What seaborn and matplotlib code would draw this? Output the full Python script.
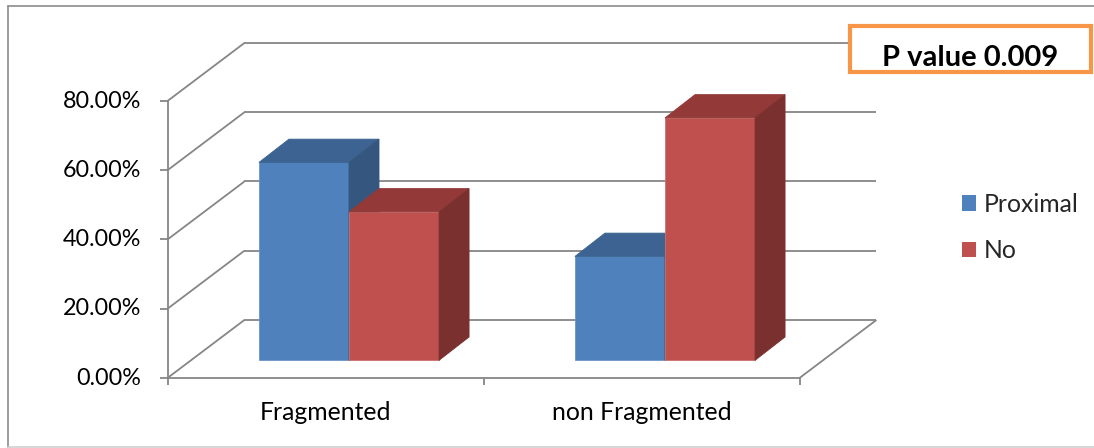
import matplotlib
matplotlib.use("Agg")
import matplotlib.pyplot as plt
from matplotlib.patches import Polygon, Rectangle, Patch
from matplotlib.lines import Line2D
import seaborn as sns
import pandas as pd

# ---- data -------------------------------------------------------------
categories = ["Fragmented", "non Fragmented"]
series = ["Proximal", "No"]
proximal = [57.14, 30.0]
no_values = [42.86, 70.0]
y_ticks = [0, 20, 40, 60, 80]
p_text = "P value 0.009"

# ---- styling ----------------------------------------------------------
front_colors = {"Proximal": "#4F81BD", "No": "#C0504D"}
top_colors = {"Proximal": "#3C6391", "No": "#933A38"}
side_colors = {"Proximal": "#34567F", "No": "#7A302F"}
edge_colors = {"Proximal": "#6E95C6", "No": "#CD6F6C"}
GRID = "#868686"

df = pd.DataFrame({
    "category": categories * 2,
    "series": [series[0]] * len(categories) + [series[1]] * len(categories),
    "value": proximal + no_values,
})

sns.set_theme(style="white")
plt.rcParams["font.family"] = ["Lato", "DejaVu Sans"]

W, H = 1094, 448
fig = plt.figure(figsize=(W / 100, H / 100), dpi=100)
ax = fig.add_axes([0, 0, 1, 1])

sns.barplot(data=df, x="category", y="value", hue="series",
            order=categories, hue_order=series, palette=front_colors,
            width=0.57, gap=0, saturation=1, errorbar=None,
            linewidth=0.6, ax=ax)
if ax.get_legend() is not None:
    ax.get_legend().remove()

# pixel geometry of the plane holding the bar fronts
X0_PX, Y0_PX = 349.0, 360.3      # category 0 centre / zero baseline
PX_PER_CAT = 316.0
PX_PER_PCT = 3.4625
ax.set_xlim(-X0_PX / PX_PER_CAT, (W - X0_PX) / PX_PER_CAT)
ax.set_ylim((Y0_PX - H) / PX_PER_PCT, Y0_PX / PX_PER_PCT)
ax.axis("off")

# oblique offsets in pixels (right, down) relative to the bar plane
DEPTH = (30.0, -23.3)
FRONT = (-23.5, 17.7)
BACK = (53.4, -40.3)


def shift(x, y, off, extra=(0.0, 0.0)):
    return (x + (off[0] + extra[0]) / PX_PER_CAT,
            y - (off[1] + extra[1]) / PX_PER_PCT)


def seg(p, q, **kw):
    ax.add_line(Line2D([p[0], q[0]], [p[1], q[1]], color=GRID, lw=1.3,
                       solid_capstyle="butt", zorder=1, **kw))


left, right = -0.5, len(categories) - 0.5

# back wall, side wall and floor
for t in y_ticks:
    seg(shift(left, t, BACK), shift(right, t, BACK))
    seg(shift(left, t, FRONT), shift(left, t, BACK))
    seg(shift(left, t, FRONT), shift(left, t, FRONT, (-8, 0)))
    ax.text(*shift(left, t, FRONT, (-26, 0)), f"{t:.2f}%", ha="right",
            va="center", fontsize=16.8, color="#000000")
seg(shift(left, 0, FRONT), shift(right, 0, FRONT))
seg(shift(right, 0, FRONT), shift(right, 0, BACK))
seg(shift(left, 0, FRONT), shift(left, y_ticks[-1], FRONT))
for i in range(len(categories) + 1):
    xb = left + i
    seg(shift(xb, 0, FRONT), shift(xb, 0, FRONT, (0, 7)))
for i, cat in enumerate(categories):
    ax.text(*shift(i, 0, FRONT, (0, 34)), cat, ha="center", va="center",
            fontsize=17.8, color="#000000")

# 3-D faces for each bar
for s, (name, cont) in enumerate(zip(series, ax.containers)):
    for bar in cont:
        x0 = bar.get_x()
        x1 = x0 + bar.get_width()
        h = bar.get_height()
        z = 3 + 2 * s
        bar.set_zorder(z)
        bar.set_edgecolor(edge_colors[name])
        top = Polygon([(x0, h), (x1, h), shift(x1, h, DEPTH), shift(x0, h, DEPTH)],
                      closed=True, facecolor=top_colors[name],
                      edgecolor=top_colors[name], lw=0.6, zorder=z + 0.5)
        side = Polygon([(x1, 0), (x1, h), shift(x1, h, DEPTH), shift(x1, 0, DEPTH)],
                       closed=True, facecolor=side_colors[name],
                       edgecolor=side_colors[name], lw=0.6, zorder=z + 0.5)
        ax.add_patch(top)
        ax.add_patch(side)

# legend
handles = [Patch(facecolor=front_colors[n], edgecolor="none") for n in series]
fig.legend(handles, series, loc="center left",
           bbox_to_anchor=(962 / W, 1 - 227.5 / H), frameon=False,
           fontsize=17.8, handlelength=0.58, handleheight=0.58,
           handletextpad=0.28, labelspacing=0.95, borderpad=0,
           borderaxespad=0)

# outer chart border
fig.add_artist(Line2D([7.5 / W, 7.5 / W], [1 - 6.5 / H, 1 - 446.5 / H],
                      transform=fig.transFigure, color="#8C8C8C", lw=1.2))
fig.add_artist(Line2D([7.5 / W, 1.0], [1 - 6.5 / H, 1 - 6.5 / H],
                      transform=fig.transFigure, color="#8C8C8C", lw=1.2))
fig.add_artist(Line2D([7.5 / W, 1.0], [1 - 446.5 / H, 1 - 446.5 / H],
                      transform=fig.transFigure, color="#D0D0D0", lw=1.2))

# p-value box
box = Rectangle((850 / W, 1 - 72.3 / H), 240.5 / W, 46.6 / H,
                transform=fig.transFigure, facecolor="white",
                edgecolor="#F79646", lw=3.0, zorder=10)
fig.add_artist(box)
fig.text(970 / W, 1 - 57.5 / H, p_text, ha="center", va="center",
         fontsize=21, fontweight="bold", color="#000000", zorder=11)

fig.savefig("out.png", dpi=100, facecolor="white")
